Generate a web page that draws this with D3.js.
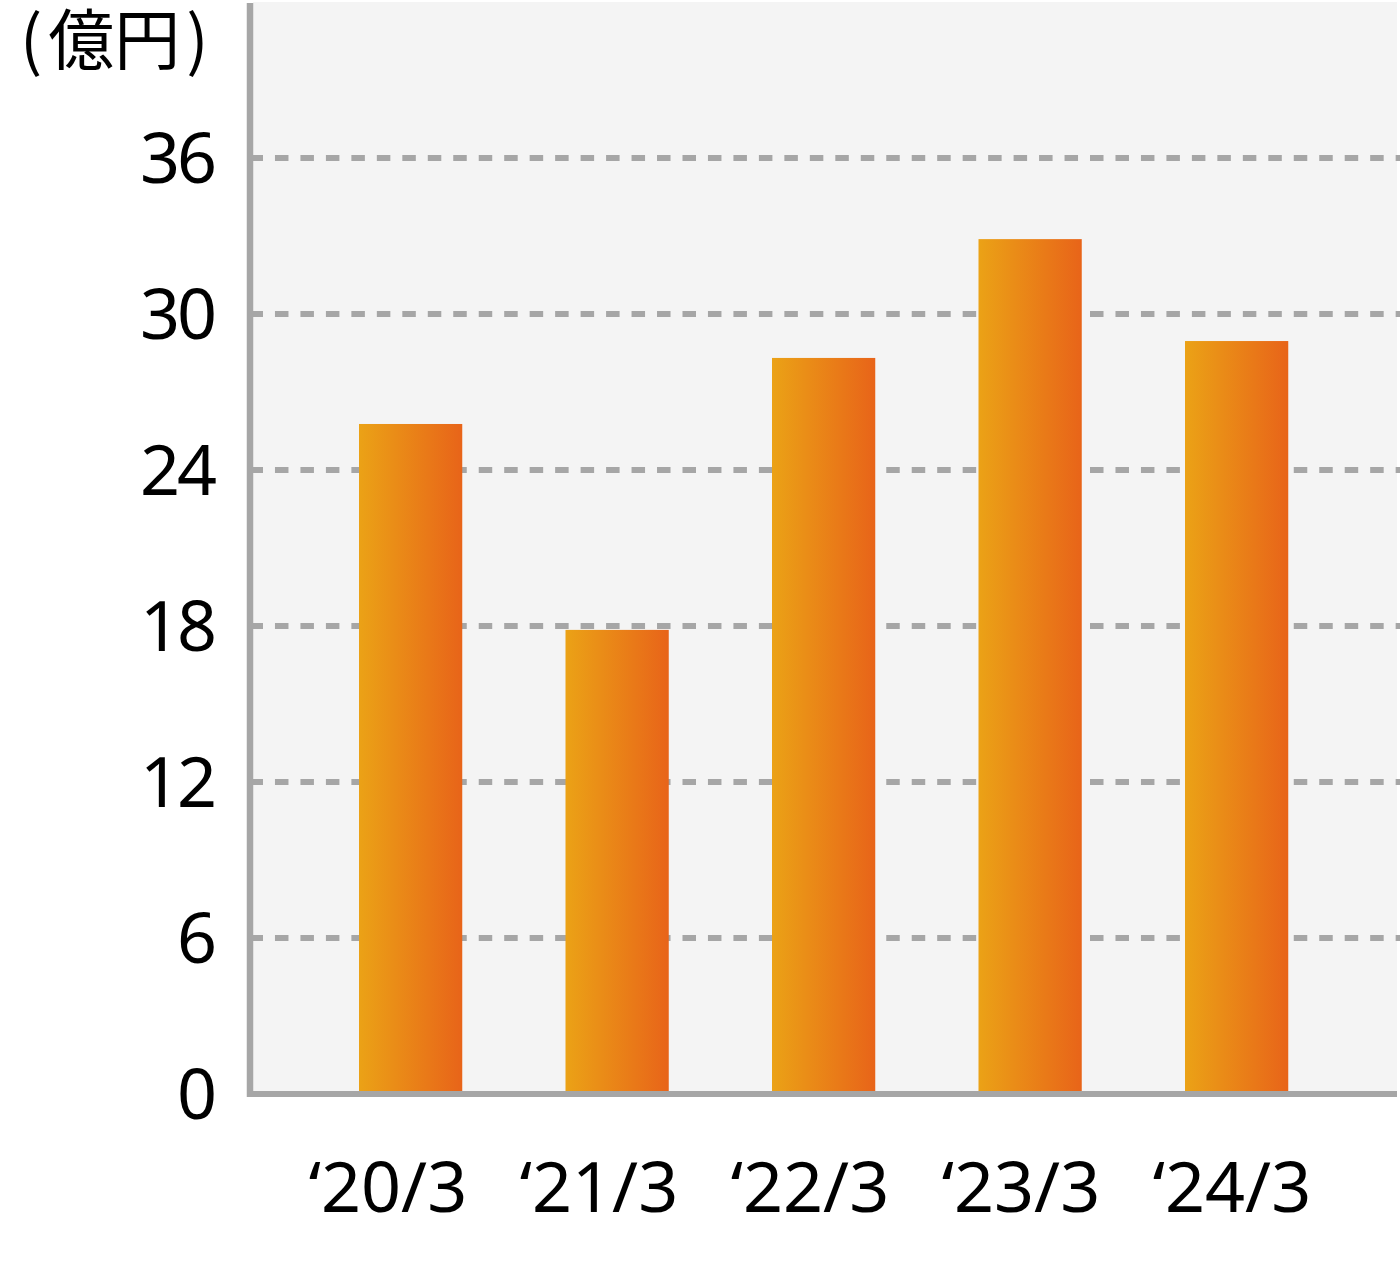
<!DOCTYPE html>
<html><head><meta charset="utf-8">
<script src="https://cdn.jsdelivr.net/npm/d3@7"></script>
<style>html,body{margin:0;padding:0;background:#fff}svg{display:block}</style>
</head><body>
<script>
const categories = ["‘20/3", "‘21/3", "‘22/3", "‘23/3", "‘24/3"];
const values = [25.77, 17.85, 28.31, 32.88, 28.96];
const yTicks = [0, 6, 12, 18, 24, 30, 36];
const unitParts = ["(", "億円", ")"];

const W = 1400, H = 1273;
const svg = d3.select("body").append("svg").attr("width", W).attr("height", H);
svg.append("rect").attr("width", W).attr("height", H).attr("fill", "#fff");

const y = d3.scaleLinear().domain([0, 36]).range([1094, 158]);
const x = d3.scaleBand().domain(categories).range([255.75, 1391.5]).paddingInner(0.5).paddingOuter(0.5);
const xLabel = d3.scalePoint().domain(categories).range([388, 1232]);

const defs = svg.append("defs");
const g = defs.append("linearGradient").attr("id", "barGrad").attr("x1", "0").attr("x2", "1").attr("y1", "0").attr("y2", "0");
g.append("stop").attr("offset", "0").attr("stop-color", "#eba216");
g.append("stop").attr("offset", "1").attr("stop-color", "#e86419");

// plot background
svg.append("rect").attr("x", 253).attr("y", 2).attr("width", 1397 - 253).attr("height", 1091 - 2).attr("fill", "#f4f4f4");

// gridlines
svg.append("g").selectAll("line").data(yTicks.filter(d => d > 0)).join("line")
  .attr("x1", 249.5).attr("x2", 1400)
  .attr("y1", d => y(d)).attr("y2", d => y(d))
  .attr("stroke", "#a6a6a6").attr("stroke-width", 6)
  .attr("stroke-dasharray", "13.5,11.97");

// bars
svg.append("g").selectAll("rect").data(values).join("rect")
  .attr("x", (d, i) => x(categories[i]))
  .attr("width", x.bandwidth())
  .attr("y", d => y(d))
  .attr("height", d => y(0) - y(d))
  .attr("fill", "url(#barGrad)");

// axes lines
svg.append("line").attr("x1", 250).attr("x2", 250).attr("y1", 3).attr("y2", 1097)
  .attr("stroke", "#a6a6a6").attr("stroke-width", 6.5);
svg.append("line").attr("x1", 247).attr("x2", 1397).attr("y1", 1094).attr("y2", 1094)
  .attr("stroke", "#a6a6a6").attr("stroke-width", 6);

const font = "'Noto Sans', 'Open Sans', sans-serif";

// y tick labels
svg.append("g").selectAll("text").data(yTicks).join("text")
  .attr("x", 214).attr("y", d => y(d) + 25)
  .attr("text-anchor", "end")
  .attr("font-family", font).attr("font-size", 70).attr("letter-spacing", -3).attr("fill", "#000")
  .text(d => d);

// x labels
svg.append("g").selectAll("text").data(categories).join("text")
  .attr("x", d => xLabel(d)).attr("y", 1212)
  .attr("text-anchor", "middle")
  .attr("font-family", font).attr("font-size", 70).attr("fill", "#000")
  .text(d => d);

// unit label
const ut = svg.append("text").attr("x", 20).attr("y", 64)
  .attr("font-family", "'Noto Sans CJK JP', sans-serif").attr("font-size", 66).attr("fill", "#000");
ut.selectAll("tspan").data(unitParts).join("tspan")
  .attr("dx", (d, i) => [0, 6, 6][i])
  .text(d => d);
</script>
</body></html>
